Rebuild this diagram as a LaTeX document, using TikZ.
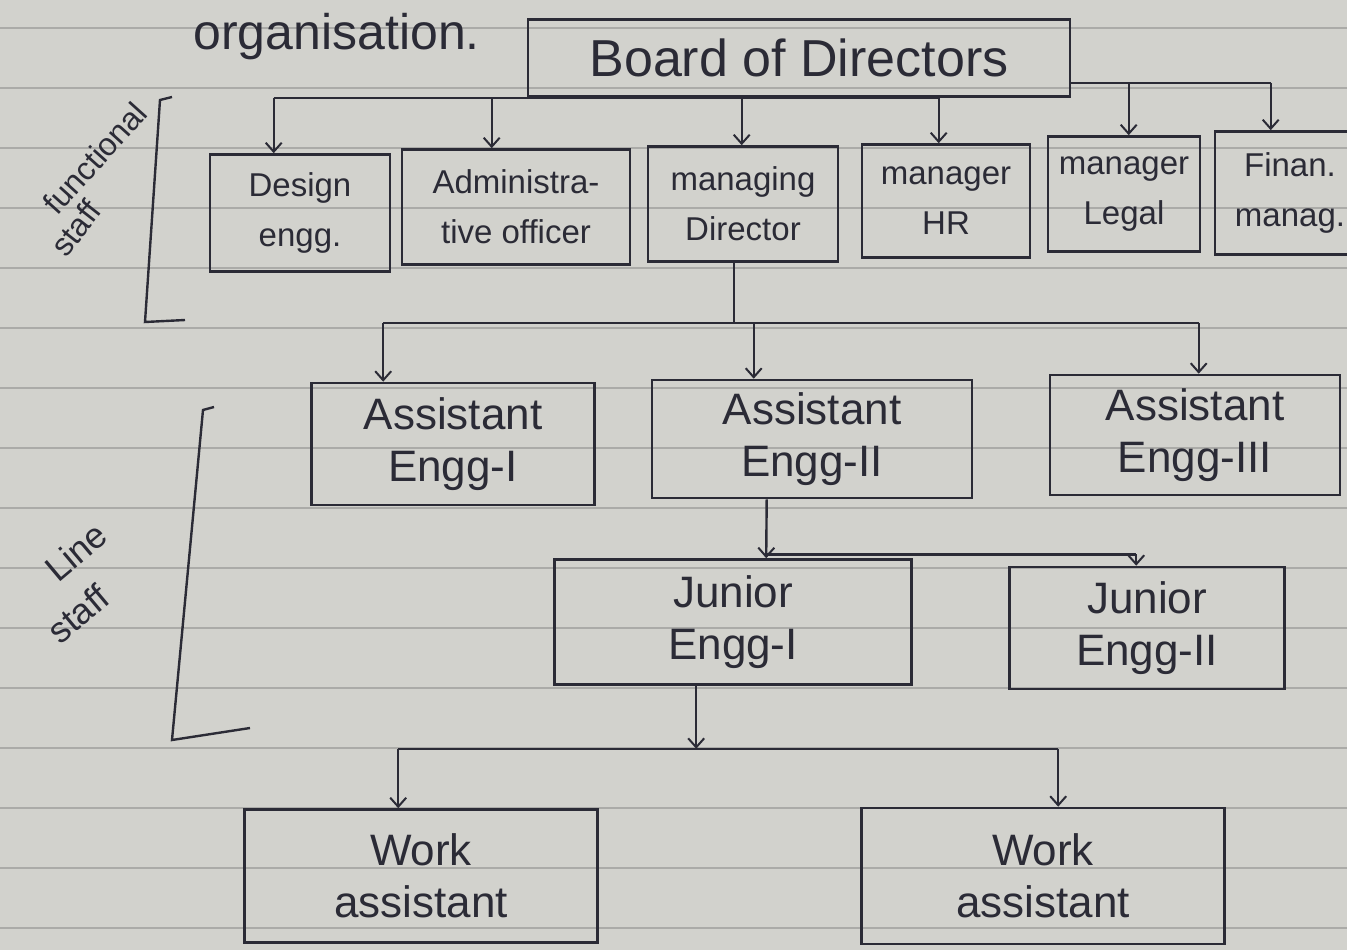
\documentclass[tikz,border=0pt]{standalone}
\usepackage{fontspec}
\setmainfont{Liberation Sans}
\usetikzlibrary{arrows.meta,calc}
\definecolor{ink}{HTML}{2B2B36}
\definecolor{paper}{HTML}{D2D2CD}
\definecolor{rulecol}{HTML}{ABABA8}
\begin{document}
\begin{tikzpicture}[x=1pt,y=-1pt,
 box/.style={draw=ink, line width=2.6pt, rectangle, align=center, text=ink, inner sep=0pt},
 conn/.style={draw=ink, line width=2.4pt},
 arr/.style={conn, -{Straight Barb[length=9pt,width=16pt,line width=2pt]}},
 huge/.style={font=\fontsize{52}{58}\selectfont},
 big/.style={font=\fontsize{44}{52}\selectfont},
 small/.style={font=\fontsize{33}{50}\selectfont},
 lbl/.style={align=center, text=ink, inner sep=0pt},
]
\useasboundingbox (0,0) rectangle (1347,950);
\clip (0,0) rectangle (1347,950);
\fill[paper] (0,0) rectangle (1347,950);
\foreach \y in {28,88,...,928} \draw[rulecol, line width=1.5pt] (0,\y) -- (1347,\y);

% title and side labels
\node[anchor=base west, text=ink, font=\fontsize{50}{56}\selectfont] (title) at (190,50) {organisation.};
\node[lbl, rotate=48, font=\fontsize{32}{36}\selectfont] (func) at (95,158) {functional};
\node[lbl, rotate=52, font=\fontsize{32}{36}\selectfont] (fstaff) at (76,228) {staff};
\node[lbl, rotate=40, font=\fontsize{36}{40}\selectfont] (lline) at (76,552) {Line};
\node[lbl, rotate=40, font=\fontsize{36}{40}\selectfont] (lstaff) at (78,614) {staff};
\draw[conn] (172,97) -- (160,100) -- (145,322) -- (185,320);
\draw[conn] (214,407) -- (203,410) -- (172,740) -- (250,728);

% boxes
\node[box, huge, minimum width=542, minimum height=77] (board) at (799,58) {Board of Directors};
\node[box, small, minimum width=180, minimum height=117] (design) at (300,213) {Design\\engg.};
\node[box, small, minimum width=228, minimum height=115] (admin) at (516,207) {Administra-\\tive officer};
\node[box, small, minimum width=190, minimum height=115] (md) at (743,204) {managing\\Director};
\node[box, small, minimum width=168, minimum height=113] (hr) at (946,201) {manager\\HR};
\node[box, small, minimum width=152, minimum height=115] (legal) at (1124,194) {manager\\Legal};
\node[box, small, minimum width=150, minimum height=123] (fin) at (1290,193) {Finan.\\manag.};

\node[box, big, minimum width=283, minimum height=122] (ae1) at (453,444) {Assistant\\Engg-I};
\node[box, big, minimum width=320, minimum height=118] (ae2) at (812,439) {Assistant\\Engg-II};
\node[box, big, minimum width=290, minimum height=120] (ae3) at (1195,435) {Assistant\\Engg-III};

\node[box, big, minimum width=357, minimum height=125] (je1) at (733,622) {Junior\\Engg-I};
\node[box, big, minimum width=275, minimum height=122] (je2) at (1147,628) {Junior\\Engg-II};

\node[box, big, minimum width=353, minimum height=133] (wa1) at (421,876) {Work\\assistant};
\node[box, big, minimum width=363, minimum height=136] (wa2) at (1043,876) {Work\\assistant};

% attachment points
\coordinate (pD) at ($(design.north west)+(65,0)$);
\coordinate (pA) at ($(admin.north west)+(91,0)$);
\coordinate (pM) at ($(md.north west)+(95,0)$);
\coordinate (pH) at ($(hr.north west)+(78,0)$);
\coordinate (pL) at ($(legal.north west)+(82,0)$);
\coordinate (pF) at ($(fin.north west)+(57,0)$);
\coordinate (bE) at ($(board.south east)+(0,-15)$);

\coordinate (mdS) at ($(md.south west)+(87,0)$);
\coordinate (m1) at ($(mdS)+(0,60)$);
\coordinate (p1) at ($(ae1.north west)+(73,0)$);
\coordinate (p2) at ($(ae2.north west)+(103,0)$);
\coordinate (p3) at ($(ae3.north west)+(150,0)$);

\coordinate (aS) at ($(ae2.south west)+(116,0)$);
\coordinate (j0) at ($(aS)+(0,55)$);
\coordinate (q1) at ($(je1.north west)+(213,0)$);
\coordinate (q2) at ($(je2.north west)+(128,0)$);

\coordinate (jS) at ($(je1.south west)+(143,0)$);
\coordinate (wb) at ($(jS)+(0,63)$);
\coordinate (r1) at ($(wa1.north west)+(155,0)$);
\coordinate (r2) at ($(wa2.north west)+(198,0)$);

% top level connectors
\draw[conn] (pD |- board.south) -- (pH |- board.south);
\foreach \p in {pD,pA,pM,pH} \draw[arr] (\p |- board.south) -- (\p);
\draw[conn] (bE) -- (pF |- bE);
\draw[arr] (pL |- bE) -- (pL);
\draw[arr] (pF |- bE) -- (pF);

% managing director to assistants
\draw[conn] (mdS) -- (m1);
\draw[conn] (p1 |- m1) -- (p3 |- m1);
\foreach \p in {p1,p2,p3} \draw[arr] (\p |- m1) -- (\p);

% assistant II to juniors
\draw[arr] (aS) -- (q1);
\draw[conn] (j0) -- (q2 |- j0);
\draw[arr] (q2 |- j0) -- (q2);

% junior I to work assistants
\draw[arr] (jS) -- (wb);
\draw[conn] (r1 |- wb) -- (r2 |- wb);
\draw[arr] (r1 |- wb) -- (r1);
\draw[arr] (r2 |- wb) -- (r2);
\end{tikzpicture}
\end{document}
